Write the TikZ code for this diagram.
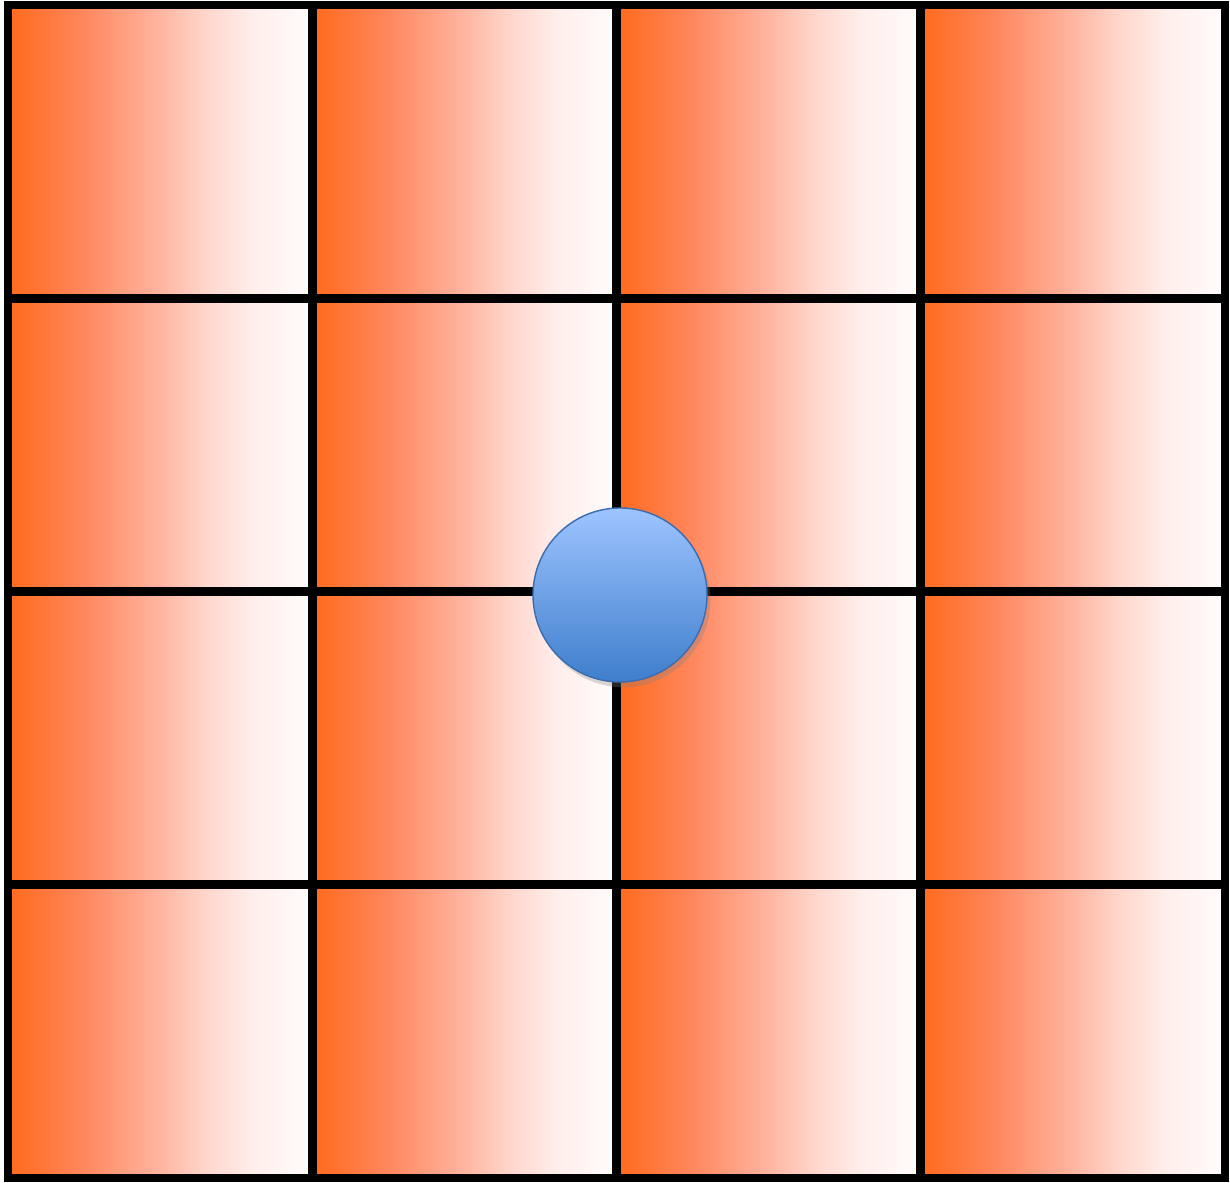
\documentclass[tikz,border=0pt]{standalone}
\usepackage{tikz}
\usetikzlibrary{shadows}
\definecolor{balltop}{RGB}{158,196,255}
\definecolor{ballbottom}{RGB}{62,126,204}
\definecolor{balledge}{RGB}{58,108,176}
% the path is mapped onto 25bp..75bp of the shading
\pgfdeclarehorizontalshading{cellfade}{100bp}{
  rgb(0bp)=(1,0.415,0.11);
  rgb(25bp)=(1,0.415,0.11);
  rgb(37.5bp)=(1,0.53,0.37);
  rgb(50bp)=(1,0.71,0.63);
  rgb(57.5bp)=(1,0.84,0.80);
  rgb(65bp)=(1,0.93,0.92);
  rgb(75bp)=(1,0.992,0.988);
  rgb(100bp)=(1,0.992,0.988)}

\begin{document}
\begin{tikzpicture}[
    cell/.style={draw=black,line width=5pt,shading=cellfade},
    ball/.style={circle,inner sep=0pt,minimum size=3.48cm,draw=balledge,line width=0.8pt,
      top color=balltop,bottom color=ballbottom,
      drop shadow={shadow xshift=2pt,shadow yshift=-3pt,opacity=0.3}}]
  \useasboundingbox (0,0) rectangle (24.6,23.64);
  % 4x4 grid of shaded cells
  \foreach \i in {0,...,3}
    \foreach \j in {0,...,3}
      \draw[cell]
        ({0.16+6.085*\i},{0.08+5.865*\j}) rectangle ({0.16+6.085*(\i+1)},{0.08+5.865*(\j+1)});
  \node[ball] (ball) at (12.4,11.74) {};
\end{tikzpicture}
\end{document}
